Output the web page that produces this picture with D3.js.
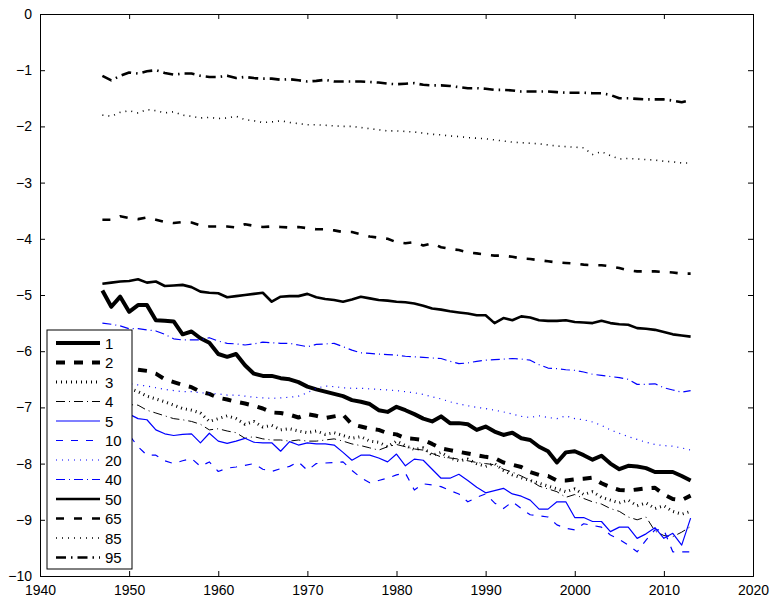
<!DOCTYPE html>
<html>
<head>
<meta charset="utf-8">
<script src="https://d3js.org/d3.v7.min.js"></script>
<style>
  body { margin: 0; background: #fff; }
  text { font-family: "Liberation Sans", Arial, sans-serif; }
</style>
</head>
<body>
<div id="chart"></div>
<script>
// years 1947..2013
const years = d3.range(1947, 2014);
const xTicks = [1940, 1950, 1960, 1970, 1980, 1990, 2000, 2010, 2020];
const yTicks = [0, -1, -2, -3, -4, -5, -6, -7, -8, -9, -10];
const labels = ["1", "2", "3", "4", "5", "10", "20", "40", "50", "65", "85", "95"];

const s1 = [-4.92,-5.21,-5.03,-5.30,-5.18,-5.18,-5.45,-5.46,-5.47,-5.70,-5.65,-5.77,-5.85,-6.05,-6.10,-6.05,-6.25,-6.40,-6.44,-6.44,-6.48,-6.50,-6.55,-6.63,-6.68,-6.72,-6.76,-6.80,-6.87,-6.90,-6.94,-7.05,-7.08,-6.99,-7.05,-7.12,-7.20,-7.25,-7.16,-7.28,-7.28,-7.30,-7.40,-7.34,-7.43,-7.49,-7.45,-7.55,-7.58,-7.70,-7.78,-7.98,-7.80,-7.78,-7.85,-7.93,-7.86,-8.00,-8.10,-8.04,-8.05,-8.08,-8.15,-8.15,-8.15,-8.22,-8.30];
const s2 = [-6.28,-6.30,-6.32,-6.30,-6.33,-6.35,-6.40,-6.50,-6.55,-6.60,-6.64,-6.72,-6.76,-6.83,-6.86,-6.90,-6.93,-6.97,-7.02,-7.09,-7.10,-7.13,-7.18,-7.12,-7.15,-7.19,-7.16,-7.13,-7.30,-7.34,-7.38,-7.40,-7.46,-7.48,-7.55,-7.56,-7.58,-7.65,-7.73,-7.76,-7.79,-7.82,-7.85,-7.88,-7.90,-7.98,-8.02,-8.06,-8.15,-8.20,-8.22,-8.30,-8.30,-8.28,-8.27,-8.25,-8.35,-8.42,-8.47,-8.48,-8.46,-8.44,-8.43,-8.55,-8.63,-8.65,-8.57];
const s3 = [-6.65,-6.70,-6.60,-6.66,-6.72,-6.80,-6.85,-6.90,-6.96,-7.02,-7.05,-7.10,-7.25,-7.20,-7.15,-7.20,-7.30,-7.25,-7.35,-7.32,-7.40,-7.38,-7.42,-7.45,-7.42,-7.48,-7.45,-7.50,-7.55,-7.52,-7.60,-7.62,-7.70,-7.60,-7.68,-7.75,-7.72,-7.85,-7.80,-7.90,-7.95,-7.92,-8.00,-8.05,-8.00,-8.12,-8.20,-8.25,-8.30,-8.35,-8.40,-8.45,-8.50,-8.45,-8.55,-8.50,-8.60,-8.65,-8.70,-8.65,-8.75,-8.70,-8.80,-8.75,-8.85,-8.90,-8.85];
const s4 = [-6.85,-6.90,-6.88,-6.95,-6.96,-7.05,-7.10,-7.15,-7.20,-7.22,-7.25,-7.30,-7.40,-7.38,-7.42,-7.45,-7.55,-7.52,-7.56,-7.58,-7.58,-7.60,-7.58,-7.60,-7.60,-7.58,-7.56,-7.60,-7.65,-7.68,-7.72,-7.76,-7.70,-7.66,-7.70,-7.74,-7.76,-7.82,-7.88,-7.90,-7.92,-7.95,-7.98,-8.00,-8.02,-8.10,-8.15,-8.22,-8.30,-8.40,-8.45,-8.50,-8.60,-8.55,-8.62,-8.68,-8.72,-8.80,-8.85,-8.95,-9.00,-8.95,-9.20,-9.28,-9.30,-9.22,-9.12];
const s5 = [-7.05,-7.10,-7.08,-7.12,-7.20,-7.22,-7.40,-7.47,-7.50,-7.48,-7.47,-7.63,-7.46,-7.60,-7.64,-7.60,-7.55,-7.62,-7.63,-7.63,-7.78,-7.61,-7.67,-7.63,-7.65,-7.65,-7.67,-7.80,-7.94,-7.85,-7.85,-7.90,-7.97,-7.83,-8.04,-7.92,-7.94,-8.10,-8.26,-8.26,-8.19,-8.30,-8.42,-8.52,-8.48,-8.44,-8.54,-8.58,-8.65,-8.81,-8.81,-8.68,-8.68,-8.96,-8.96,-9.03,-9.03,-9.21,-9.13,-9.13,-9.33,-9.25,-9.14,-9.33,-9.24,-9.45,-8.97];
const s10 = [-7.40,-7.45,-7.42,-7.49,-7.70,-7.85,-7.85,-7.95,-8.00,-7.95,-7.91,-8.05,-7.97,-8.14,-8.08,-8.06,-8.03,-8.00,-8.10,-8.14,-8.09,-8.05,-7.97,-8.12,-8.00,-7.99,-7.98,-7.97,-8.12,-8.25,-8.34,-8.30,-8.26,-8.20,-8.17,-8.47,-8.36,-8.38,-8.41,-8.48,-8.54,-8.68,-8.60,-8.54,-8.70,-8.80,-8.68,-8.80,-8.91,-8.93,-8.95,-9.09,-9.15,-9.18,-9.07,-9.10,-9.13,-9.27,-9.35,-9.45,-9.57,-9.36,-9.18,-9.18,-9.57,-9.57,-9.57];
const s20 = [-6.45,-6.50,-6.52,-6.58,-6.60,-6.62,-6.65,-6.68,-6.70,-6.72,-6.72,-6.74,-6.75,-6.76,-6.78,-6.78,-6.80,-6.82,-6.83,-6.84,-6.83,-6.82,-6.80,-6.74,-6.66,-6.62,-6.63,-6.65,-6.66,-6.66,-6.67,-6.68,-6.69,-6.70,-6.72,-6.74,-6.77,-6.81,-6.85,-6.90,-6.94,-6.97,-7.00,-7.02,-7.05,-7.08,-7.12,-7.16,-7.18,-7.15,-7.18,-7.20,-7.15,-7.20,-7.22,-7.26,-7.32,-7.40,-7.46,-7.52,-7.57,-7.62,-7.66,-7.68,-7.69,-7.72,-7.76];
const s40 = [-5.50,-5.52,-5.55,-5.60,-5.60,-5.62,-5.64,-5.70,-5.78,-5.80,-5.80,-5.80,-5.76,-5.82,-5.86,-5.87,-5.89,-5.87,-5.84,-5.85,-5.86,-5.86,-5.89,-5.92,-5.88,-5.87,-5.86,-5.92,-5.98,-6.03,-6.04,-6.05,-6.06,-6.07,-6.09,-6.10,-6.11,-6.12,-6.13,-6.18,-6.22,-6.21,-6.18,-6.16,-6.15,-6.14,-6.13,-6.14,-6.16,-6.24,-6.30,-6.31,-6.33,-6.34,-6.37,-6.41,-6.43,-6.45,-6.47,-6.50,-6.59,-6.59,-6.58,-6.65,-6.69,-6.73,-6.70];
const s50 = [-4.80,-4.78,-4.76,-4.75,-4.72,-4.78,-4.76,-4.84,-4.83,-4.82,-4.86,-4.94,-4.96,-4.97,-5.04,-5.02,-5.00,-4.98,-4.96,-5.12,-5.03,-5.02,-5.02,-4.98,-5.04,-5.07,-5.09,-5.12,-5.08,-5.03,-5.06,-5.09,-5.10,-5.12,-5.13,-5.15,-5.19,-5.24,-5.26,-5.29,-5.31,-5.33,-5.36,-5.36,-5.50,-5.41,-5.45,-5.38,-5.40,-5.45,-5.46,-5.46,-5.45,-5.48,-5.49,-5.50,-5.46,-5.50,-5.52,-5.53,-5.59,-5.60,-5.62,-5.66,-5.70,-5.72,-5.74];
const s65 = [-3.66,-3.66,-3.60,-3.63,-3.65,-3.62,-3.66,-3.70,-3.72,-3.70,-3.71,-3.76,-3.78,-3.78,-3.78,-3.80,-3.74,-3.77,-3.79,-3.78,-3.79,-3.80,-3.79,-3.81,-3.83,-3.83,-3.85,-3.88,-3.88,-3.92,-3.96,-3.98,-4.00,-4.06,-4.08,-4.06,-4.12,-4.08,-4.15,-4.18,-4.20,-4.24,-4.26,-4.28,-4.30,-4.30,-4.32,-4.35,-4.36,-4.38,-4.40,-4.42,-4.43,-4.44,-4.46,-4.47,-4.47,-4.49,-4.52,-4.56,-4.58,-4.58,-4.58,-4.59,-4.60,-4.62,-4.62];
const s85 = [-1.80,-1.82,-1.75,-1.72,-1.76,-1.70,-1.72,-1.76,-1.74,-1.80,-1.82,-1.85,-1.84,-1.86,-1.85,-1.82,-1.88,-1.90,-1.93,-1.92,-1.90,-1.93,-1.95,-1.97,-1.97,-1.98,-1.99,-2.00,-2.00,-2.02,-2.04,-2.06,-2.08,-2.08,-2.09,-2.10,-2.12,-2.14,-2.15,-2.17,-2.18,-2.20,-2.21,-2.22,-2.24,-2.26,-2.28,-2.29,-2.30,-2.31,-2.33,-2.35,-2.36,-2.37,-2.38,-2.50,-2.45,-2.52,-2.58,-2.57,-2.58,-2.59,-2.60,-2.62,-2.63,-2.65,-2.65];
const s95 = [-1.10,-1.18,-1.10,-1.04,-1.06,-1.02,-1.00,-1.05,-1.08,-1.06,-1.06,-1.10,-1.12,-1.12,-1.10,-1.14,-1.12,-1.14,-1.15,-1.15,-1.17,-1.16,-1.18,-1.20,-1.19,-1.17,-1.20,-1.20,-1.20,-1.20,-1.21,-1.22,-1.24,-1.25,-1.24,-1.23,-1.26,-1.27,-1.27,-1.28,-1.30,-1.32,-1.32,-1.33,-1.35,-1.35,-1.36,-1.38,-1.38,-1.38,-1.38,-1.39,-1.40,-1.40,-1.40,-1.41,-1.41,-1.44,-1.50,-1.50,-1.51,-1.52,-1.52,-1.52,-1.54,-1.57,-1.53];

const seriesValues = [s1, s2, s3, s4, s5, s10, s20, s40, s50, s65, s85, s95];

// line looks, MATLAB-ish
const black = "#000", blue = "#0000ff";
const styles = [
  {c: black, w: 4,   d: null},
  {c: black, w: 4,   d: "9,9"},
  {c: black, w: 3,   d: "1,4"},
  {c: black, w: 1,   d: "9,4,1,4"},
  {c: blue,  w: 1.2, d: null},
  {c: blue,  w: 1.2, d: "7,8"},
  {c: blue,  w: 1.2, d: "1,5"},
  {c: blue,  w: 1.2, d: "9,4,1,4"},
  {c: black, w: 2.6, d: null},
  {c: black, w: 2.6, d: "8,10"},
  {c: black, w: 1.6, d: "1,5"},
  {c: black, w: 2.6, d: "10,5,1.5,5"}
];

const width = 773, height = 599;
const margin = {top: 14, right: 20, bottom: 23, left: 40};

const svg = d3.select("#chart").append("svg")
  .attr("width", width).attr("height", height);

const x = d3.scaleLinear().domain([1940, 2020]).range([margin.left, width - margin.right]);
const y = d3.scaleLinear().domain([-10, 0]).range([height - margin.bottom, margin.top]);

const line = d3.line()
  .x((d, i) => x(years[i]))
  .y(d => y(d));

svg.append("g")
  .selectAll("path")
  .data(seriesValues)
  .join("path")
  .attr("fill", "none")
  .attr("stroke", (d, i) => styles[i].c)
  .attr("stroke-width", (d, i) => styles[i].w)
  .attr("stroke-dasharray", (d, i) => styles[i].d)
  .attr("stroke-linejoin", "round")
  .attr("d", d => line(d));

// axes box with inward ticks on all four sides
const fmt = v => String(v).replace("-", "\u2212");
svg.append("g")
  .attr("transform", `translate(0,${y(-10)})`)
  .call(d3.axisBottom(x).tickValues(xTicks).tickSize(-5).tickPadding(9).tickFormat(d3.format("d")));
svg.append("g")
  .attr("transform", `translate(0,${y(0)})`)
  .call(d3.axisTop(x).tickValues(xTicks).tickSize(-5).tickFormat(""));
svg.append("g")
  .attr("transform", `translate(${x(1940)},0)`)
  .call(d3.axisLeft(y).tickValues(yTicks).tickSize(-5).tickPadding(8).tickFormat(fmt));
svg.append("g")
  .attr("transform", `translate(${x(2020)},0)`)
  .call(d3.axisRight(y).tickValues(yTicks).tickSize(-5).tickFormat(""));

svg.selectAll(".domain").attr("stroke", "#000").attr("stroke-width", 1);
svg.selectAll(".tick line").attr("stroke", "#000");
svg.selectAll(".tick text").attr("font-size", 14).attr("fill", "#000")
  .attr("font-family", "Liberation Sans, Arial, sans-serif");

// legend
const lg = svg.append("g").attr("transform", "translate(47,330)");
lg.append("rect").attr("width", 85).attr("height", 239)
  .attr("fill", "#fff").attr("stroke", "#000").attr("stroke-width", 1);
labels.forEach((lab, i) => {
  const ly = 13 + i * 19.5;
  lg.append("line")
    .attr("x1", 9).attr("x2", 53).attr("y1", ly).attr("y2", ly)
    .attr("stroke", styles[i].c)
    .attr("stroke-width", styles[i].w)
    .attr("stroke-dasharray", styles[i].d);
  lg.append("text")
    .attr("x", 58).attr("y", ly + 5.5)
    .attr("font-size", 15).text(lab);
});
</script>
</body>
</html>
